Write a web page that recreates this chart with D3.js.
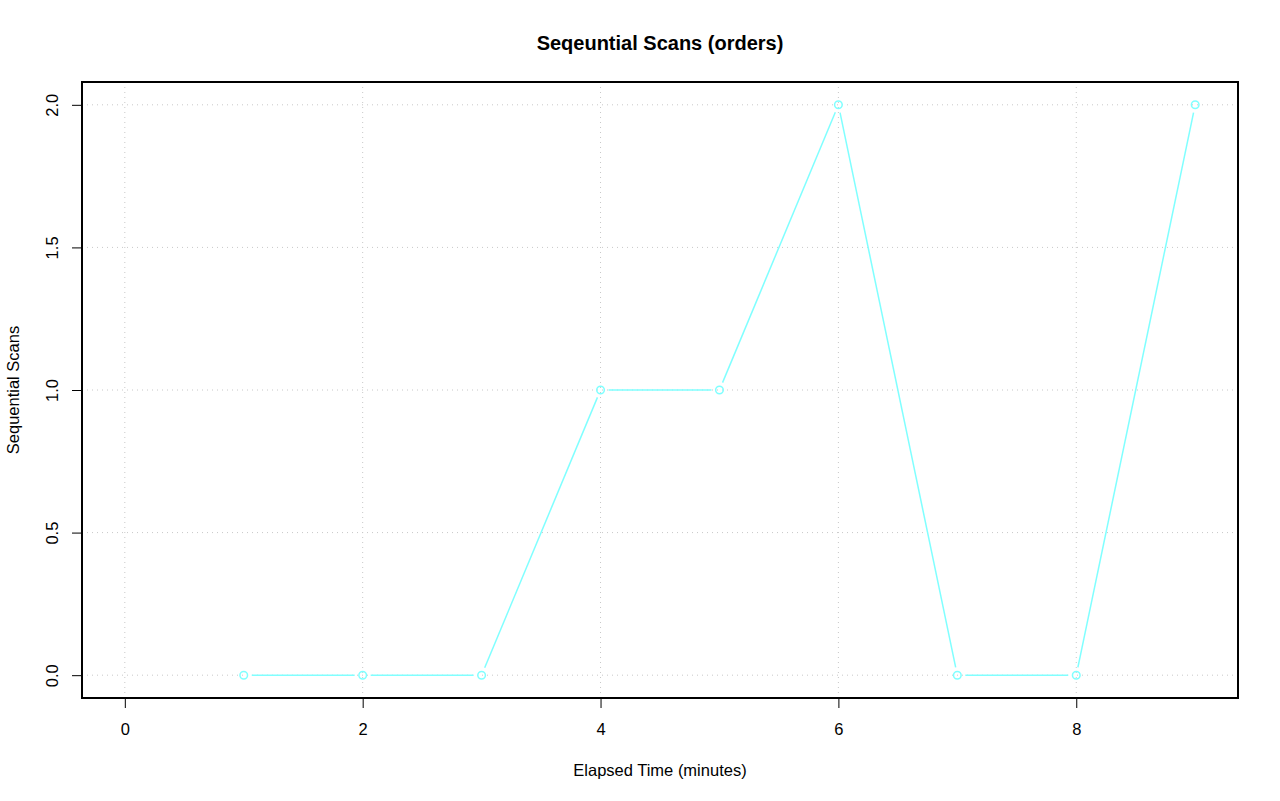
<!DOCTYPE html>
<html>
<head>
<meta charset="utf-8">
<script src="https://cdn.jsdelivr.net/npm/d3@7"></script>
<style>
  body { margin: 0; background: #fff; }
  text { font-family: "Liberation Sans", Arial, sans-serif; }
</style>
</head>
<body>
<svg id="chart" width="1280" height="801"></svg>
<script>
// data
const minutes = [1, 2, 3, 4, 5, 6, 7, 8, 9];
const seqScans = [0, 0, 0, 1, 1, 2, 0, 0, 2];
const xTicks = [0, 2, 4, 6, 8];
const yTicks = [0, 0.5, 1, 1.5, 2];

const svg = d3.select('#chart');
const box = { left: 82, right: 1238, top: 82, bottom: 698 };
const lineColor = '#80ffff';
const fs = 16.5;

// R style 4% padding
const x = d3.scaleLinear().domain([-0.36, 9.36]).range([box.left, box.right]);
const y = d3.scaleLinear().domain([-0.08, 2.08]).range([box.bottom, box.top]);

// grid
const grid = svg.append('g');
grid.selectAll('.gx').data(xTicks).enter().append('line')
    .attr('x1', d => x(d)).attr('x2', d => x(d))
    .attr('y1', box.top).attr('y2', box.bottom)
    .attr('stroke', '#c8c8c8').attr('stroke-dasharray', '1,4');
grid.selectAll('.gy').data(yTicks).enter().append('line')
    .attr('y1', d => y(d)).attr('y2', d => y(d))
    .attr('x1', box.left).attr('x2', box.right)
    .attr('stroke', '#c8c8c8').attr('stroke-dasharray', '1,4');

// axes
const xAxis = svg.append('g')
    .attr('transform', `translate(0, ${box.bottom})`)
    .call(d3.axisBottom(x).tickValues(xTicks).tickSize(10).tickPadding(16).tickFormat(d3.format('d')));
xAxis.select('.domain').remove();
xAxis.selectAll('text').attr('dy', 0).attr('y', 37);

const yAxis = svg.append('g')
    .attr('transform', `translate(${box.left}, 0)`)
    .call(d3.axisLeft(y).tickValues(yTicks).tickSize(10).tickFormat(d3.format('.1f')));
yAxis.select('.domain').remove();
yAxis.selectAll('text')
    .attr('x', 0).attr('y', 0).attr('dy', 0)
    .attr('text-anchor', 'middle')
    .attr('transform', 'translate(-24, 0) rotate(-90)');

svg.selectAll('.tick text').attr('font-size', fs).attr('fill', '#000')
    .style('font-family', '"Liberation Sans", Arial, sans-serif');
svg.selectAll('.tick line').attr('stroke', '#000').attr('stroke-width', 1);

// box
svg.append('rect')
    .attr('x', box.left).attr('y', box.top)
    .attr('width', box.right - box.left).attr('height', box.bottom - box.top)
    .attr('fill', 'none').attr('stroke', '#000').attr('stroke-width', 2);

// line segments with gaps (type = "b")
const pts = minutes.map((m, i) => [x(m), y(seqScans[i])]);
const gap = 8;
const segs = [];
for (let i = 0; i < pts.length - 1; i++) {
    const [x0, y0] = pts[i], [x1, y1] = pts[i + 1];
    const len = Math.hypot(x1 - x0, y1 - y0);
    const ux = (x1 - x0) / len, uy = (y1 - y0) / len;
    segs.push([x0 + ux * gap, y0 + uy * gap, x1 - ux * gap, y1 - uy * gap]);
}
svg.append('g').selectAll('line').data(segs).enter().append('line')
    .attr('x1', d => d[0]).attr('y1', d => d[1])
    .attr('x2', d => d[2]).attr('y2', d => d[3])
    .attr('stroke', lineColor).attr('stroke-width', 1.5);

svg.append('g').selectAll('circle').data(minutes).enter().append('circle')
    .attr('cx', d => x(d))
    .attr('cy', (d, i) => y(seqScans[i]))
    .attr('r', 3.8)
    .attr('fill', 'none').attr('stroke', lineColor).attr('stroke-width', 1.5);

// titles
svg.append('text').attr('x', 660).attr('y', 50)
    .attr('text-anchor', 'middle').attr('font-size', 20).attr('font-weight', 'bold')
    .text('Seqeuntial Scans (orders)');
svg.append('text').attr('x', 660).attr('y', 776)
    .attr('text-anchor', 'middle').attr('font-size', fs)
    .text('Elapsed Time (minutes)');
svg.append('text')
    .attr('transform', `translate(19, ${(box.top + box.bottom) / 2}) rotate(-90)`)
    .attr('text-anchor', 'middle').attr('font-size', fs)
    .text('Sequential Scans');
</script>
</body>
</html>
